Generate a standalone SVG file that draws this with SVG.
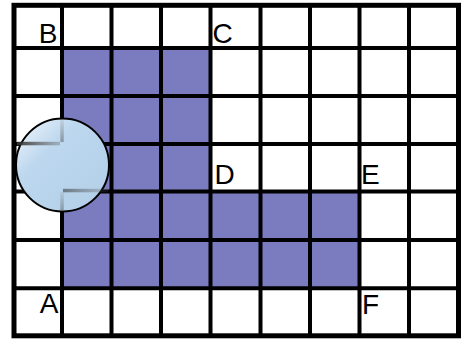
<svg xmlns="http://www.w3.org/2000/svg" width="466" height="339" viewBox="0 0 466 339">
<style>
.g{stroke:#000;stroke-width:4;fill:none}
.lbl{font-family:"Liberation Sans",Arial,sans-serif;font-size:28px;fill:#000}
</style>
<defs>
<linearGradient id="glass" x1="0" y1="0" x2="1" y2="1">
<stop offset="0" stop-color="#f4f8fc"/>
<stop offset="0.35" stop-color="#bcd7ee"/>
<stop offset="1" stop-color="#b2cfe8"/>
</linearGradient>
<linearGradient id="gh" x1="0" y1="0" x2="1" y2="0">
<stop offset="0" stop-color="#333" stop-opacity="0.95"/>
<stop offset="1" stop-color="#555" stop-opacity="0.3"/>
</linearGradient>
<linearGradient id="gv" x1="0" y1="0" x2="0" y2="1">
<stop offset="0" stop-color="#666" stop-opacity="0.1"/>
<stop offset="1" stop-color="#666" stop-opacity="0.55"/>
</linearGradient>
</defs>
<rect width="466" height="339" fill="#fff"/>
<g id="shaded-area">
<path d="M62 48H211V191H360V288H62Z" fill="#7b7bbf"/>
</g>
<g id="grid" class="g">
<path d="M62 5V335.5M111.5 5V335.5M161 5V335.5M210.5 5V335.5M260.5 5V335.5M310 5V335.5M359.5 5V335.5M409 5V335.5"/>
<path d="M14 48H458.5M14 96H458.5M14 144H458.5M14 191.5H458.5M14 240H458.5M14 288.3H458.5"/>
<rect x="14" y="5.3" width="444.5" height="330.5" stroke-width="5"/>
</g>
<g id="labels" class="lbl">
<text x="57.5" y="43" text-anchor="end">B</text>
<text x="212.5" y="43">C</text>
<text x="214.5" y="183.5">D</text>
<text x="361" y="184">E</text>
<text x="58.5" y="313" text-anchor="end">A</text>
<text x="362" y="314">F</text>
</g>
<g id="lens">
<circle cx="62.5" cy="165" r="46.5" fill="url(#glass)" stroke="#000" stroke-width="2"/>
<rect x="17" y="141.8" width="43" height="3.5" fill="url(#gh)"/>
<rect x="60.3" y="119" width="3.5" height="23" fill="url(#gv)"/>
<rect x="63" y="188.8" width="45" height="3.5" fill="url(#gh)" opacity="0.6"/>
<rect x="60.3" y="192" width="3.5" height="19" fill="url(#gv)"/>
</g>
</svg>
